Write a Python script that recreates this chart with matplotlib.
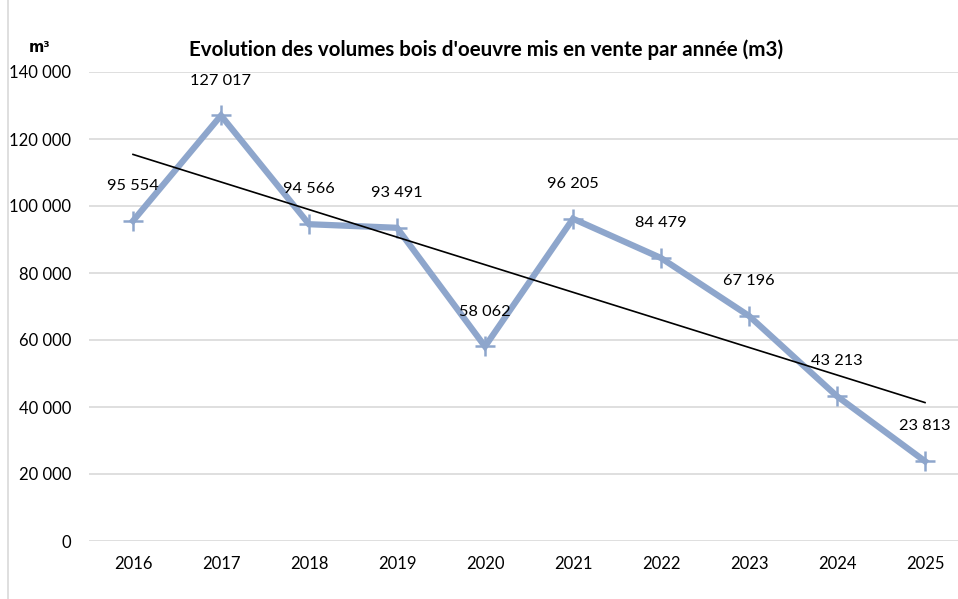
import numpy as np
import matplotlib.pyplot as plt
from matplotlib.lines import Line2D

plt.rcParams['font.family'] = ['Lato', 'DejaVu Sans']

years = ['2016', '2017', '2018', '2019', '2020', '2021', '2022', '2023', '2024', '2025']
volumes = [95554, 127017, 94566, 93491, 58062, 96205, 84479, 67196, 43213, 23813]

def fmt(v):
    return f"{v:,}".replace(",", " ")

fig = plt.figure(figsize=(9.58, 5.99), dpi=100)
ax = fig.add_axes([89 / 958, 58 / 599, 880 / 958, 469 / 599])

x = np.arange(len(years))
line_color = '#8EA6CC'
ax.plot(x, volumes, color=line_color, lw=4.5, marker='+', ms=15, mew=1.8,
        solid_joinstyle='miter', zorder=3)

# linear trend
coef = np.polyfit(x, volumes, 1)
ax.plot(x, np.polyval(coef, x), color='black', lw=1.2, zorder=4)

for xi, v in zip(x, volumes):
    ax.annotate(fmt(v), (xi, v), xytext=(0, 20), textcoords='offset points',
                ha='center', va='bottom', fontsize=11.8, color='black')

ax.set_xlim(-0.5, len(years) - 0.5)
ax.set_ylim(0, 140000)
ax.set_yticks(range(0, 140001, 20000))
ax.set_yticklabels([fmt(t) for t in range(0, 140001, 20000)])
ax.set_xticks(x)
ax.set_xticklabels(years)
ax.tick_params(axis='both', length=0, labelsize=12, colors='black')
ax.tick_params(axis='y', pad=13)
ax.tick_params(axis='x', pad=11)
ax.grid(axis='y', color='#D9D9D9', lw=1.2)
ax.set_axisbelow(True)
for s in ax.spines.values():
    s.set_visible(False)

fig.text(486 / 958, 1 - 50 / 599, "Evolution des volumes bois d'oeuvre mis en vente par année (m3)",
         ha='center', va='center', fontsize=14.8, fontweight='bold')
fig.text(40 / 958, 1 - 48 / 599, "m³", ha='center', va='center', fontsize=10.5,
         fontweight='bold', family='DejaVu Sans')

fig.add_artist(Line2D([8 / 958, 8 / 958], [0, 1], color='#D9D9D9', lw=1.2,
                      transform=fig.transFigure))

fig.savefig('out.png', dpi=100)
